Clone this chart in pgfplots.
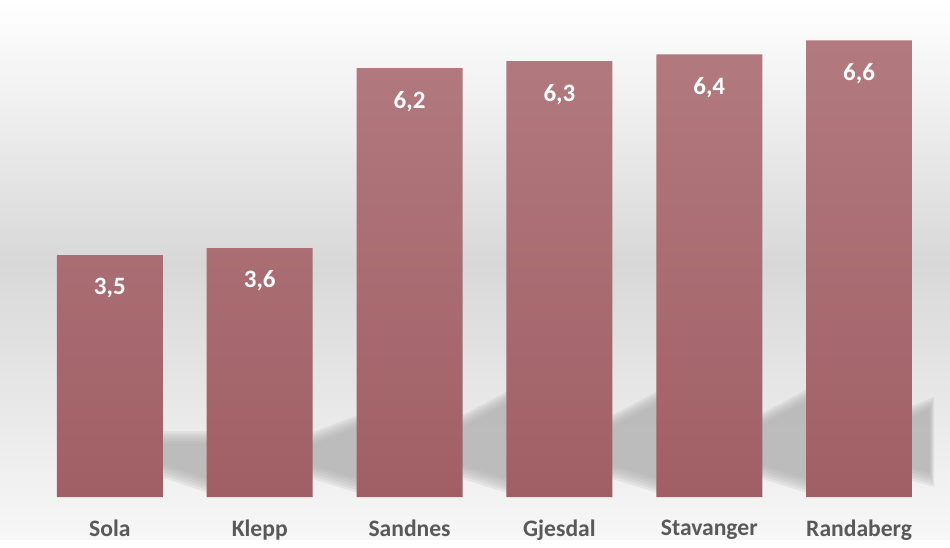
\documentclass[border=0pt]{standalone}
\usepackage{pgfplots}
\pgfplotsset{compat=1.18}
\usepackage{fontspec}
\setmainfont{Carlito}
\definecolor{barTop}{RGB}{178,122,127}
\definecolor{barBot}{RGB}{160,95,101}
\definecolor{bgGray}{RGB}{216,216,216}
\definecolor{lblGray}{RGB}{89,89,89}
\definecolor{shadowGray}{RGB}{172,172,172}
\begin{document}
\begin{tikzpicture}
\begin{axis}[
  scale only axis, width=475pt, height=248.5pt,
  xmin=-0.7333, xmax=5.6067, ymin=0, ymax=7.182,
  axis line style={draw=none}, major tick length=0pt,
  axis on top,
  xtick={0,1,2,3,4,5},
  xticklabels={Sola,Klepp,Sandnes,Gjesdal,Stavanger,Randaberg},
  ytick=\empty,
  xticklabel style={font=\bfseries\fontsize{11.8}{14}\selectfont, text=lblGray, yshift=-8pt},
  clip=false,
  ybar, bar width=53pt, bar shift=0pt,
  nodes near coords,
  point meta=explicit symbolic,
  nodes near coords style={font=\bfseries\fontsize{12.5}{15}\selectfont, text=white, anchor=center, yshift=-16.5pt},
]
\shade[top color=white, bottom color=bgGray] (axis cs:-0.7333,3.4) rectangle (axis cs:5.6067,7.182);
\shade[top color=bgGray, bottom color=white!97!black] (axis cs:-0.7333,-0.607) rectangle (axis cs:5.6067,3.4);
\pgfplotsinvokeforeach{0,1,2,3,4,5}{
  \fill[shadowGray, opacity=0.2] (axis cs:0.33,0.30+#1*0.04) -- (axis cs:0.33,0.95-#1*0.035) -- (axis cs:0.67,0.95-#1*0.035) -- (axis cs:0.67,0.05+#1*0.04) -- cycle;
  \fill[shadowGray, opacity=0.2] (axis cs:1.33,0.28+#1*0.04) -- (axis cs:1.33,0.92-#1*0.035) -- (axis cs:1.67,1.20-#1*0.035) -- (axis cs:1.67,0.05+#1*0.04) -- cycle;
  \fill[shadowGray, opacity=0.2] (axis cs:2.33,0.28+#1*0.04) -- (axis cs:2.33,1.16-#1*0.035) -- (axis cs:2.67,1.55-#1*0.035) -- (axis cs:2.67,0.05+#1*0.04) -- cycle;
  \fill[shadowGray, opacity=0.2] (axis cs:3.33,0.28+#1*0.04) -- (axis cs:3.33,1.16-#1*0.035) -- (axis cs:3.67,1.55-#1*0.035) -- (axis cs:3.67,0.05+#1*0.04) -- cycle;
  \fill[shadowGray, opacity=0.2] (axis cs:4.33,0.28+#1*0.04) -- (axis cs:4.33,1.19-#1*0.035) -- (axis cs:4.67,1.58-#1*0.035) -- (axis cs:4.67,0.05+#1*0.04) -- cycle;
  \fill[shadowGray, opacity=0.2] (axis cs:5.33,0.25+#1*0.04) -- (axis cs:5.33,1.30-#1*0.035) -- (axis cs:5.5-#1*0.006,1.45-#1*0.035) -- (axis cs:5.5-#1*0.006,0.15+#1*0.04) -- cycle;
}
\addplot[draw=none, top color=barTop, bottom color=barBot] coordinates {
  (0,3.5) [3,5]
  (1,3.6) [3,6]
  (2,6.2) [6,2]
  (3,6.3) [6,3]
  (4,6.4) [6,4]
  (5,6.6) [6,6]
};
\end{axis}
\end{tikzpicture}
\end{document}
